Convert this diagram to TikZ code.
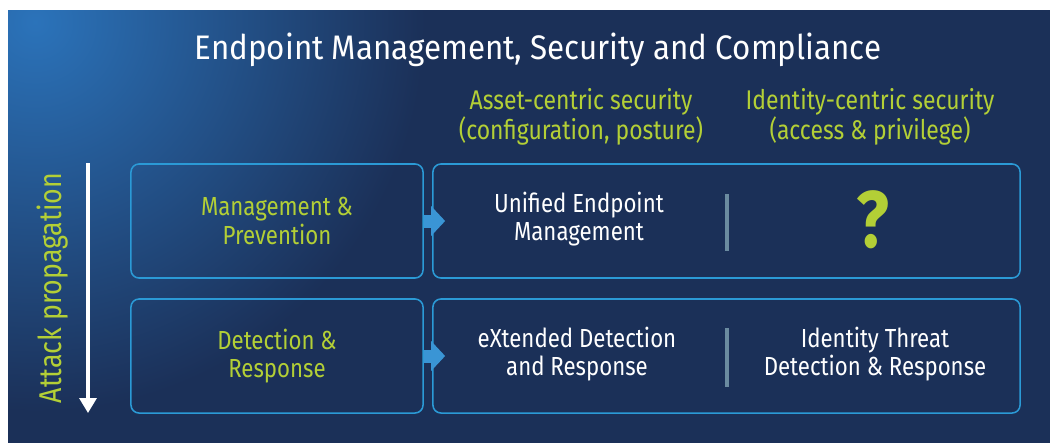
\documentclass[tikz,border=0pt]{standalone}
\usepackage{fontspec}
\setmainfont{Fira Sans}[FakeStretch=0.85]
\newfontfamily\titlefont{Fira Sans}[FakeStretch=0.92]
\usetikzlibrary{arrows.meta, positioning, calc}
\definecolor{navy}{HTML}{1B3058}
\definecolor{glow}{HTML}{2B73BA}
\definecolor{edgeblue}{HTML}{2B9AD6}
\definecolor{lime}{HTML}{B3CF36}
\definecolor{feedblue}{HTML}{3A95D5}
\definecolor{divgray}{HTML}{6B8BA0}

\begin{document}
\begin{tikzpicture}[
    x=0.025cm, y=-0.025cm,
    every node/.style={font=\fontsize{18.6}{20}\selectfont, text=white, align=center},
    title/.style ={font=\titlefont\fontsize{24.2}{28}\selectfont},
    head/.style  ={text=lime, font=\fontsize{19.2}{20}\selectfont},
    panel/.style ={draw=edgeblue, line width=1.1pt, rounded corners=0.2cm,
                   minimum height=2.85cm, inner sep=0pt},
    lpanel/.style={panel, minimum width=7.3cm, text=lime},
    rpanel/.style={panel, minimum width=14.675cm},
    divider/.style={divgray, line width=3.4pt},
    feed/.style  ={feedblue, line width=0.325cm,
                   -{Triangle[width=0.725cm, length=0.35cm]}},
    down/.style  ={white, line width=2.4pt,
                   -{Triangle[width=0.425cm, length=0.375cm]}},
]
% page and background
\useasboundingbox (0,0) rectangle (1050,442);
\fill[white] (-5,-5) rectangle (1055,447);
\fill[navy] (8,10) rectangle (1055,447);
\begin{scope}
  \clip (8,10) rectangle (1055,447);
  \shade[inner color=glow, outer color=navy] (35,22) circle (390);
\end{scope}

% headings
\node[title] (title) at (538,50) {Endpoint Management, Security and Compliance};
\node[head] (asset) at (581,117) {Asset-centric security\\(configuration, posture)};
\node[head] (ident) at (870,117) {Identity-centric security\\(access \& privilege)};

% rows
\node[lpanel] (mgmt)   at (277,221) {Management \&\\Prevention};
\node[lpanel] (detect) at (277,356) {Detection \&\\Response};
\node[rpanel] (toprow) at (726.5,221) {};
\node[rpanel] (botrow) at (726.5,356) {};

\node (uem)  at (579,219) {Unified Endpoint\\Management};
\node[text=lime, font=\bfseries\fontsize{57}{57}\selectfont] (qmark) at (873,220) {?};
\node (xdr)  at (577,354) {eXtended Detection\\and Response};
\node (itdr) at (875,354) {Identity Threat\\Detection \& Response};

\draw[divider] ($(toprow.center)+(0.5,-27)$) -- ($(toprow.center)+(0.5,30)$);
\draw[divider] ($(botrow.center)+(0.5,-28)$) -- ($(botrow.center)+(0.5,31)$);

% arrows
\draw[feed] (mgmt.east)   -- ([xshift=0.325cm]toprow.west);
\draw[feed] (detect.east) -- ([xshift=0.325cm]botrow.west);

\coordinate (ptop) at (88,163);
\coordinate (pbot) at (88,413);
\draw[down] (ptop) -- (pbot);
\node[rotate=90, text=lime, font=\fontsize{22.4}{24}\selectfont] (prop) at (53,288) {Attack propagation};
\end{tikzpicture}
\end{document}
